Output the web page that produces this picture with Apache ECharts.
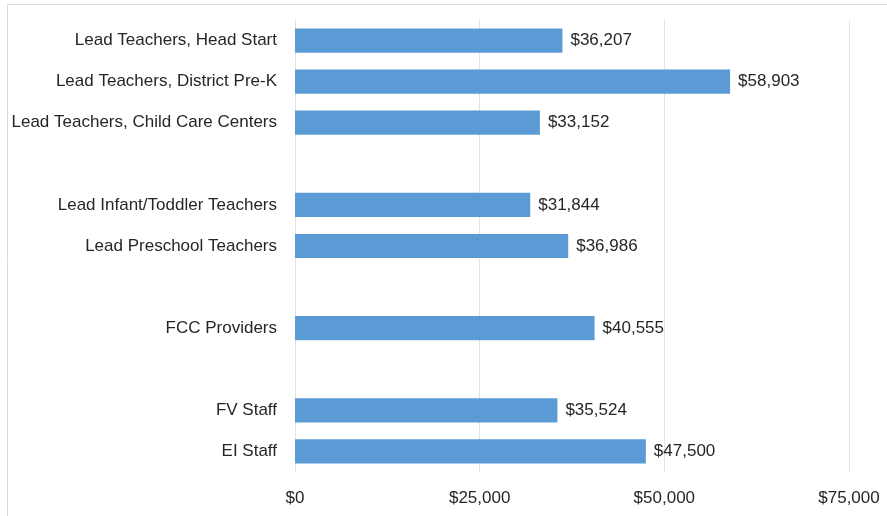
<!DOCTYPE html>
<html>
<head>
<meta charset="utf-8">
<script src="https://cdn.jsdelivr.net/npm/echarts@6/dist/echarts.min.js"></script>
<style>html,body{margin:0;padding:0;background:#fff;}#c{width:887px;height:516px;}</style>
</head>
<body>
<div id="c"></div>
<script>
var categories = ["Lead Teachers, Head Start", "Lead Teachers, District Pre-K", "Lead Teachers, Child Care Centers", "", "Lead Infant/Toddler Teachers", "Lead Preschool Teachers", " ", "FCC Providers", "  ", "FV Staff", "EI Staff"];
var values = [36207, 58903, 33152, null, 31844, 36986, null, 40555, null, 35524, 47500];
var xTicks = [0, 25000, 50000, 75000];

var font = '"Liberation Sans Narrow", "Arial Narrow", "Liberation Sans", sans-serif';
function money(v) { return '$' + Number(v).toLocaleString('en-US'); }

var chart = echarts.init(document.getElementById('c'), null, {renderer: 'canvas'});
chart.setOption({
  animation: false,
  graphic: [{
    type: 'rect', silent: true,
    shape: {x: 7.5, y: 4.5, width: 900, height: 600},
    style: {fill: 'none', stroke: '#d9d9d9', lineWidth: 1}
  }],
  grid: {left: 295, right: 38, top: 20, bottom: 44, containLabel: false},
  xAxis: {
    type: 'value', min: xTicks[0], max: xTicks[xTicks.length - 1], interval: 25000,
    axisLine: {show: false}, axisTick: {show: false},
    splitLine: {show: true, lineStyle: {color: '#e3e3e3', width: 1}},
    axisLabel: {margin: 18, color: '#262626', fontFamily: font, fontSize: 17, formatter: money}
  },
  yAxis: {
    type: 'category', data: categories, inverse: true,
    axisLine: {show: true, lineStyle: {color: '#e3e3e3'}}, axisTick: {show: false},
    axisLabel: {margin: 18, color: '#262626', fontFamily: font, fontSize: 17}
  },
  series: [{
    type: 'bar', data: values, barCategoryGap: '41%',
    itemStyle: {color: '#5b9bd5'},
    label: {show: true, position: 'right', distance: 8, color: '#262626', fontFamily: font, fontSize: 17,
      formatter: function (p) { return money(p.value); }}
  }]
});
</script>
</body>
</html>
